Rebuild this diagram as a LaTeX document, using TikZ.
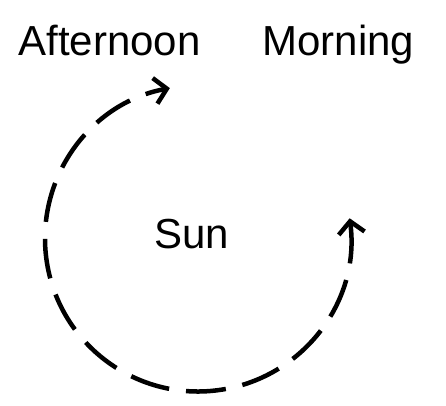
\documentclass[tikz,border=0pt]{standalone}
\usepackage{fontspec}
\setmainfont{Liberation Sans}
\usetikzlibrary{arrows.meta}
\begin{document}
\begin{tikzpicture}[x=1pt,y=1pt,
  lbl/.style={inner sep=0pt, anchor=base, font=\fontsize{42}{50}\selectfont},
  orbit/.style={line width=4.5pt, dash pattern=on 40pt off 17pt,
    {Straight Barb[length=12pt,width=26pt,line width=4.5pt]}-{Straight Barb[length=12pt,width=26pt,line width=4.5pt]}}]
\useasboundingbox (0,0) rectangle (446,405);
\node[lbl] (aft) at (109.5,349) {Afternoon};
\node[lbl] (mor) at (338.5,349) {Morning};
\node[lbl] (sun) at (191.5,157) {Sun};
\coordinate (c) at (198,166.5);
\draw[orbit] ([shift={(7.6:153)}]c) arc[start angle=7.6, end angle=-259.4, radius=153];
\end{tikzpicture}
\end{document}
